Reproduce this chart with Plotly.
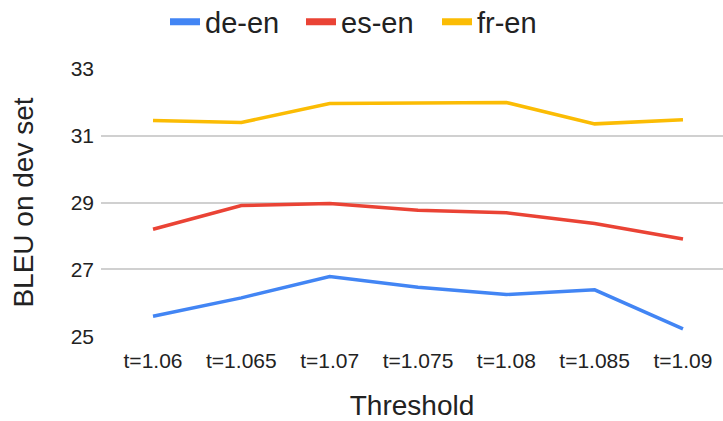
import plotly.graph_objects as go

categories = ["t=1.06", "t=1.065", "t=1.07", "t=1.075", "t=1.08", "t=1.085", "t=1.09"]
de_en = [25.60, 26.15, 26.79, 26.47, 26.25, 26.39, 25.22]
es_en = [28.20, 28.91, 28.97, 28.77, 28.69, 28.37, 27.91]
fr_en = [31.45, 31.39, 31.96, 31.97, 31.99, 31.35, 31.47]
y_ticks = [25, 27, 29, 31, 33]

series = [("de-en", de_en, "#4285F4"), ("es-en", es_en, "#EA4335"), ("fr-en", fr_en, "#FBBC04")]

fig = go.Figure()
xs = list(range(len(categories)))
for name, vals, color in series:
    fig.add_trace(go.Scatter(x=xs, y=vals, mode="lines", name=name, showlegend=False,
                             line=dict(color=color, width=3.5)))
for name, vals, color in series:
    fig.add_trace(go.Scatter(x=[None], y=[None], mode="lines", name=name, showlegend=True,
                             line=dict(color=color, width=7)))

FONT = "Liberation Sans, Arial, sans-serif"
fig.update_layout(
    width=723, height=421,
    margin=dict(l=101, r=0, t=68, b=84, autoexpand=False),
    paper_bgcolor="white", plot_bgcolor="white",
    font=dict(family=FONT, color="#222222"),
    legend=dict(orientation="h", xref="container", yref="container", x=165 / 723, xanchor="left",
                y=1 - 22 / 421, yanchor="middle", font=dict(size=29, color="#222222"),
                itemwidth=30, entrywidth=91, traceorder="normal"),
    xaxis=dict(range=[-0.589, 6.453], tickmode="array", tickvals=xs, ticktext=categories,
               showgrid=False, zeroline=False, showline=False, ticks="", automargin=False,
               ticklabelstandoff=9,
               tickfont=dict(size=21, color="#222222"),
               title=dict(text="Threshold", font=dict(size=28, color="#222222"), standoff=40)),
    yaxis=dict(range=[24.98, 33.02], tickmode="array", tickvals=y_ticks, automargin=False,
               showgrid=True, gridcolor="#d0d0d0", gridwidth=1.5, zeroline=False, showline=False,
               ticks="", ticklabelstandoff=6,
               tickfont=dict(size=21, color="#222222"),
               title=dict(text="BLEU on dev set", font=dict(size=28, color="#222222"), standoff=28)),
)
fig.write_html("out.html", config={"displayModeBar": False},
               post_script="document.body.style.margin='0';")
